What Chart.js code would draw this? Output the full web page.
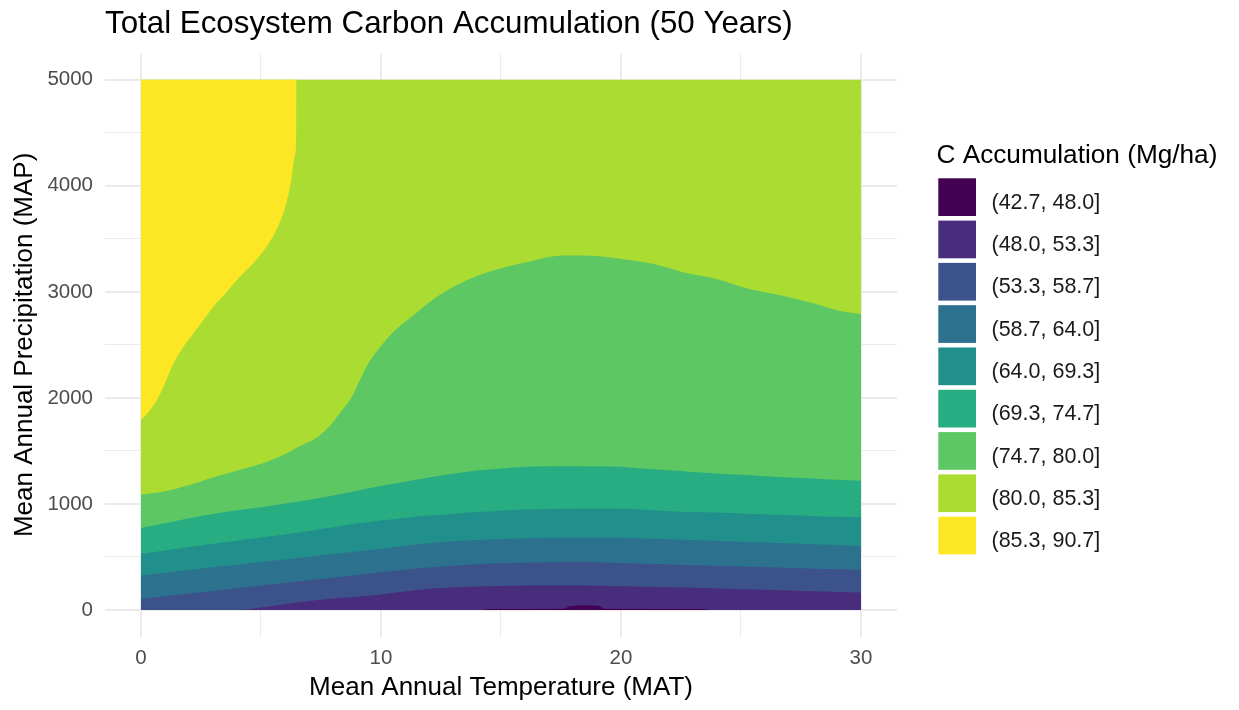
<!DOCTYPE html>
<html>
<head>
<meta charset="utf-8">
<title>Total Ecosystem Carbon Accumulation (50 Years)</title>
<script src="https://cdn.jsdelivr.net/npm/chart.js@4/dist/chart.umd.min.js"></script>
<style>
  html, body { margin: 0; padding: 0; background: #ffffff; }
  #wrap { width: 1239px; height: 710px; }
</style>
</head>
<body>
<div id="wrap"><canvas id="chart" width="1239" height="710"></canvas></div>
<script>
const FONT = "'Liberation Sans', Arial, Helvetica, sans-serif";

// Mean annual temperature grid (°C) shared by the lower band edges
const mat = [0,1,2,3,4,5,6,7,8,9,10,11,12,13,14,15,16,17,18,19,20,21,22,23,24,25,26,27,28,29,30];

// Precipitation (mm) at which each contour level is crossed, per temperature
const edge53_3 = [0,0,0,0,0,24,55,85,108,125,145,175,200,213,222,227,230,231,231,229,225,220,215,209,203,196,190,183,176,170,165];
const edge58_7 = [104,130,155,180,205,230,255,280,305,330,355,380,400,418,432,440,446,450,452,450,442,435,428,421,415,409,403,397,390,384,379];
const edge64_0 = [326,352,377,402,427,452,477,502,527,552,577,605,630,648,660,670,677,682,684,684,682,675,668,660,652,644,637,629,621,612,604];
const edge69_3 = [531,562,593,624,654,683,712,745,780,815,843,868,890,908,924,937,947,953,957,958,957,945,932,925,920,911,903,895,886,879,876];
const edge74_7 = [774,818,865,905,940,970,1005,1040,1080,1125,1170,1210,1250,1285,1315,1335,1350,1355,1355,1354,1350,1332,1318,1302,1288,1275,1262,1250,1240,1228,1218];

// 80.0 contour, sampled more densely where it climbs steeply
const edge80Mat = [0,0.91,2.02,3.13,4.10,5.08,5.91,6.74,7.30,7.85,8.34,8.76,9.10,9.45,9.94,10.56,11.33,12.30,13.55,14.66,16.05,17.58,19.10,19.94,21.33,22.58,23.97,25.35,26.74,28.13,29.10,30];
const edge80Map = [1090,1116,1179,1258,1321,1384,1460,1558,1621,1732,1874,2000,2158,2317,2474,2632,2774,2948,3106,3201,3280,3343,3335,3312,3264,3185,3122,3027,2964,2885,2822,2790];

// Lowest band: a thin pocket along the bottom edge
const pocketMat = [14.2,14.5,17.6,17.9,18.5,19.1,19.3,23.4,23.7];
const pocketMap = [0,10,12,38,42,38,12,10,0];

// Highest band: cool, wet corner (85.3 contour)
const cornerMat = [0,0.22,0.63,0.98,1.33,1.74,2.16,2.58,2.99,3.55,4.10,4.66,5.22,5.70,6.05,6.26,6.40,6.47,6.48];
const cornerMap = [1795,1843,1969,2127,2317,2474,2601,2727,2853,2995,3137,3264,3422,3611,3833,4054,4275,4464,5000];

// Floor of the surface and the top of the sampled range
const floorMat = [0, 30];
const floorMap = [0, 0];
const mapTop = 5000;
// Lower layers only need to reach under the 80.0 band, which covers everything up to mapTop
const coverTop = 4800;

const bandLabels = ['(42.7, 48.0]','(48.0, 53.3]','(53.3, 58.7]','(58.7, 64.0]','(64.0, 69.3]','(69.3, 74.7]','(74.7, 80.0]','(80.0, 85.3]','(85.3, 90.7]'];
const bandColors = ['#440154','#472D7B','#3B528B','#2C728E','#21908C','#27AD81','#5DC863','#AADC32','#FDE725'];

const xTickLabels = [0, 10, 20, 30];
const xMinorTicks = [5, 15, 25];
const yTickLabels = [0, 1000, 2000, 3000, 4000, 5000];
const yMinorTicks = [500, 1500, 2500, 3500, 4500];

function pts(xs, ys) { return xs.map((x, i) => ({ x: x, y: ys[i] })); }

// Each layer paints the region above its contour (or below, for the pocket);
// later layers sit on top of earlier ones.
const layers = [
  { data: pts(floorMat, floorMap), color: bandColors[1], fill: { value: coverTop } },
  { data: pts(pocketMat, pocketMap), color: bandColors[0], fill: { value: 0 } },
  { data: pts(mat, edge53_3), color: bandColors[2], fill: { value: coverTop } },
  { data: pts(mat, edge58_7), color: bandColors[3], fill: { value: coverTop } },
  { data: pts(mat, edge64_0), color: bandColors[4], fill: { value: coverTop } },
  { data: pts(mat, edge69_3), color: bandColors[5], fill: { value: coverTop } },
  { data: pts(mat, edge74_7), color: bandColors[6], fill: { value: coverTop } },
  { data: pts(edge80Mat, edge80Map), color: bandColors[7], fill: { value: mapTop } },
  { data: pts(cornerMat, cornerMap), color: bandColors[8], fill: { value: mapTop } }
];

const datasets = layers.map((l, i) => ({
  data: l.data,
  fill: l.fill,
  backgroundColor: l.color,
  borderColor: 'rgba(0,0,0,0)',
  borderWidth: 0,
  pointRadius: 0,
  pointHoverRadius: 0,
  cubicInterpolationMode: 'monotone',
  order: layers.length - i
}));

const GRID = '#ebebeb';

// Legend for the colour bands, drawn to the right of the panel
const bandKey = {
  id: 'bandKey',
  afterDraw(chart) {
    const ctx = chart.ctx;
    const left = 938.3, top = 178.3, size = 37.7, pitch = 42.3;
    ctx.save();
    ctx.textAlign = 'left';
    ctx.textBaseline = 'alphabetic';
    ctx.fillStyle = '#000000';
    ctx.font = '26.2px ' + FONT;
    ctx.fillText('C Accumulation (Mg/ha)', 936.5, 162.7);
    ctx.font = '21.5px ' + FONT;
    bandLabels.forEach((label, i) => {
      const y = top + i * pitch;
      ctx.fillStyle = bandColors[i];
      ctx.fillRect(left, y, size, size);
      ctx.fillStyle = '#1a1a1a';
      ctx.fillText(label, 991.5, y + size / 2 + 11.6);
    });
    ctx.restore();
  }
};

new Chart(document.getElementById('chart'), {
  type: 'line',
  data: { datasets: datasets },
  plugins: [bandKey],
  options: {
    responsive: false,
    animation: false,
    events: [],
    layout: { padding: { left: 0, right: 342, top: 0, bottom: 0 } },
    plugins: {
      legend: { display: false },
      tooltip: { enabled: false },
      title: {
        display: true,
        text: 'Total Ecosystem Carbon Accumulation (50 Years)',
        align: 'start',
        fullSize: false,
        color: '#000000',
        font: { family: FONT, size: 31.3, weight: 'normal', lineHeight: 1.2 },
        padding: { top: 5.4, bottom: 10.3 }
      }
    },
    scales: {
      x: {
        type: 'linear',
        min: -1.5,
        max: 31.5,
        afterBuildTicks: s => { s.ticks = xTickLabels.concat(xMinorTicks).sort((a, b) => a - b).map(v => ({ value: v })); },
        afterFit: s => { s.height = 73.5; },
        border: { display: false },
        grid: {
          drawTicks: false,
          color: GRID,
          lineWidth: c => (c.tick && xTickLabels.includes(c.tick.value)) ? 2 : 1.1
        },
        ticks: {
          autoSkip: false,
          maxRotation: 0,
          padding: 10,
          color: '#4d4d4d',
          font: { family: FONT, size: 20.5 },
          callback: v => xTickLabels.includes(v) ? String(v) : ''
        },
        title: {
          display: true,
          text: 'Mean Annual Temperature (MAT)',
          color: '#000000',
          font: { family: FONT, size: 26 },
          padding: { top: 0, bottom: 6.1 }
        }
      },
      y: {
        type: 'linear',
        min: -250,
        max: 5250,
        afterBuildTicks: s => { s.ticks = yTickLabels.concat(yMinorTicks).sort((a, b) => a - b).map(v => ({ value: v })); },
        afterFit: s => { s.width = 105; },
        border: { display: false },
        grid: {
          drawTicks: false,
          color: GRID,
          lineWidth: c => (c.tick && yTickLabels.includes(c.tick.value)) ? 2 : 1.1
        },
        ticks: {
          autoSkip: false,
          padding: 12,
          color: '#4d4d4d',
          font: { family: FONT, size: 20.5 },
          callback: v => yTickLabels.includes(v) ? String(v) : ''
        },
        title: {
          display: true,
          text: 'Mean Annual Precipitation (MAP)',
          color: '#000000',
          font: { family: FONT, size: 26 },
          padding: { top: 8.9, bottom: 0 }
        }
      }
    }
  }
});
</script>
</body>
</html>
